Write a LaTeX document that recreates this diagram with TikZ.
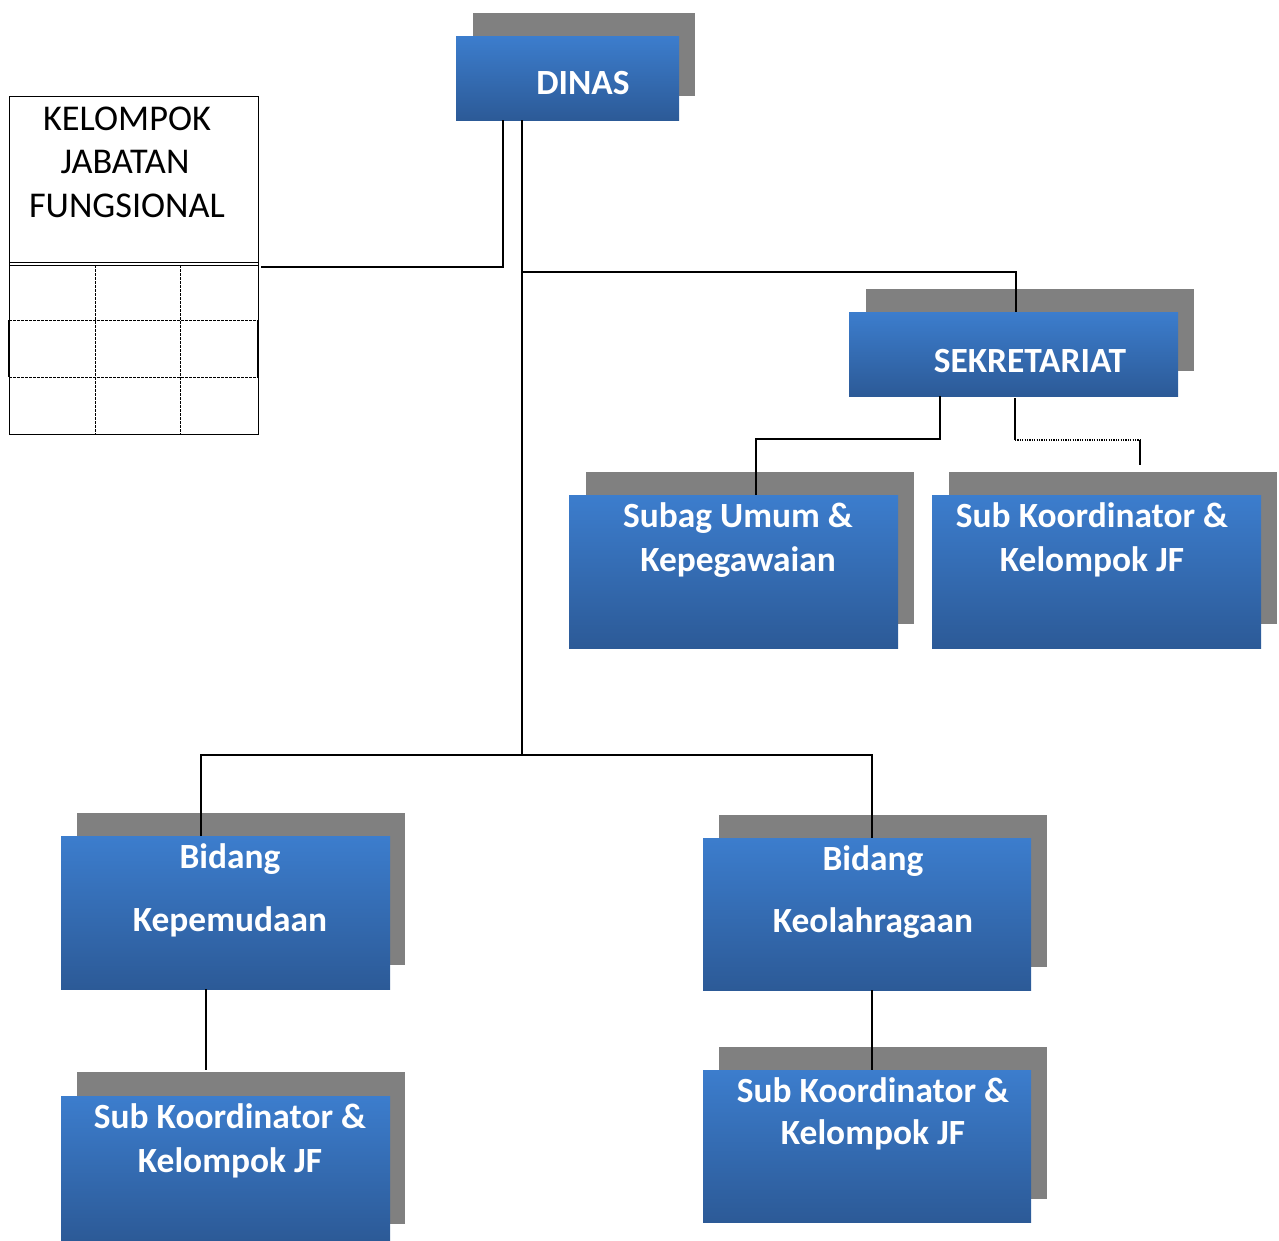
\documentclass[tikz,border=0pt]{standalone}
\usepackage{fontspec}
\setmainfont{Carlito}
\usetikzlibrary{calc}
\definecolor{bluetop}{HTML}{3C7DCD}
\definecolor{bluebot}{HTML}{2C5A97}
\definecolor{shadowgray}{HTML}{808080}
\tikzset{
  bluebox/.style={anchor=north west, inner sep=0pt, top color=bluetop, bottom color=bluebot, draw=none},
  shade box/.style={fill=shadowgray},
  btxt/.style={anchor=base, inner sep=0pt, text=white, font=\fontsize{35.4}{44}\selectfont\bfseries},
  ktxt/.style={anchor=base, inner sep=0pt, text=black, font=\fontsize{36.3}{44}\selectfont},
  conn/.style={draw=black, line width=1.6pt},
  dotconn/.style={draw=black, line width=1.5pt, dash pattern=on 1.2pt off 1.2pt},
}
\begin{document}
\begin{tikzpicture}[x=1pt,y=-1pt]
\useasboundingbox (0,0) rectangle (1279,1240);
% shadows
\fill[shade box] (473,13) rectangle (695,96);
\fill[shade box] (866,289) rectangle (1194,371);
\fill[shade box] (586,472) rectangle (914,624);
\fill[shade box] (949,472) rectangle (1277,624);
\fill[shade box] (77,813) rectangle (405,965);
\fill[shade box] (719,815) rectangle (1047,967);
\fill[shade box] (77,1072) rectangle (405,1224);
\fill[shade box] (719,1047) rectangle (1047,1199);
% blue boxes
\node[bluebox, minimum width=223pt, minimum height=84pt] (dinas) at (456,36) {};
\node[bluebox, minimum width=329pt, minimum height=84pt] (sek) at (849,312) {};
\node[bluebox, minimum width=329pt, minimum height=153pt] (subag) at (569,495) {};
\node[bluebox, minimum width=329pt, minimum height=153pt] (subkA) at (932,495) {};
\node[bluebox, minimum width=329pt, minimum height=153pt] (bidA) at (61,836) {};
\node[bluebox, minimum width=328pt, minimum height=152pt] (bidB) at (703,838) {};
\node[bluebox, minimum width=329pt, minimum height=144pt] (subkB) at (61,1096) {};
\node[bluebox, minimum width=328pt, minimum height=152pt] (subkC) at (703,1070) {};
% texts
\node[btxt] (tdinas) at (583,94) {DINAS};
\node[btxt] (tsek) at (1030,372) {SEKRETARIAT};
\node[btxt] (tsub1) at (738,527) {Subag Umum \&};
\node[btxt] (tsub2) at (738,571) {Kepegawaian};
\node[btxt] (tska1) at (1092,527) {Sub Koordinator \&};
\node[btxt] (tska2) at (1092,571) {Kelompok JF};
\node[btxt] (tba1) at (230,868) {Bidang};
\node[btxt] (tba2) at (230,931) {Kepemudaan};
\node[btxt] (tbb1) at (873,870) {Bidang};
\node[btxt] (tbb2) at (873,932) {Keolahragaan};
\node[btxt] (tskb1) at (230,1128) {Sub Koordinator \&};
\node[btxt] (tskb2) at (230,1172) {Kelompok JF};
\node[btxt] (tskc1) at (873,1102) {Sub Koordinator \&};
\node[btxt] (tskc2) at (873,1144) {Kelompok JF};
% kelompok jabatan fungsional box
\node[anchor=north west, draw=black, line width=1.2pt, inner sep=0pt, minimum width=249pt, minimum height=338pt] (kjf) at (9,96) {};
\node[ktxt] (tk1) at (127,130) {KELOMPOK};
\node[ktxt] (tk2) at (125,173) {JABATAN};
\node[ktxt] (tk3) at (127,217) {FUNGSIONAL};
\draw[line width=1pt] (9,262.5) -- (258,262.5);
\draw[line width=1pt] (9,265.5) -- (258,265.5);
\draw[line width=0.9pt, dash pattern=on 2.5pt off 1.5pt] (95,265) -- (95,434) (180,265) -- (180,434)
  (9,320) -- (258,320) (9,377) -- (258,377);
\draw[line width=1.8pt] (9,320) -- (9,377) (258,320) -- (258,377);
% connectors
\coordinate (kjfin) at (261,267);
\coordinate (hub) at (522,755);
\draw[conn] ([xshift=47pt]dinas.south west) |- (kjfin);
\draw[conn] ([xshift=66pt]dinas.south west) coordinate (t0) -- (hub);
\draw[conn] (t0 |- 0,272) -| ([xshift=167pt]sek.north west);
\draw[conn] ([xshift=91pt]sek.south west) |- ([xshift=187pt,yshift=56pt]subag.north west) -- ([xshift=187pt]subag.north west);
\coordinate (dotend) at (1140,465);
\draw[conn] ([xshift=166pt,yshift=-2pt]sek.south west) coordinate (d0) -- (d0 |- 0,440);
\draw[dotconn] (d0 |- 0,440) -- (dotend |- 0,440);
\draw[conn] (dotend |- 0,440) -- (dotend);
\draw[conn] ([xshift=140pt]bidA.north west) |- (hub) -| ([xshift=169pt]bidB.north west);
\coordinate (skbin) at (206,1070);
\draw[conn] ([xshift=145pt]bidA.south west) -- (skbin);
\draw[conn] ([xshift=169pt]bidB.south west) -- ([xshift=169pt]subkC.north west);
\end{tikzpicture}
\end{document}
